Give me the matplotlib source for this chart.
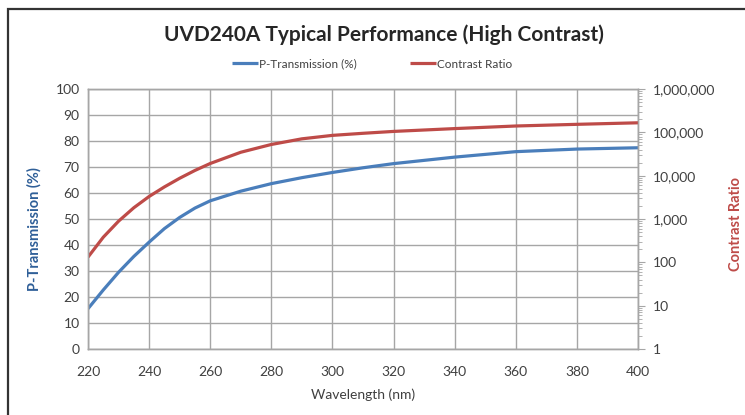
import matplotlib
matplotlib.use("Agg")
import matplotlib.pyplot as plt
from matplotlib.ticker import FixedLocator, LogLocator, FuncFormatter, NullFormatter
from matplotlib.patches import Rectangle

plt.rcParams['font.family'] = ['Lato', 'DejaVu Sans']

wavelength = [220, 225, 230, 235, 240, 245, 250, 255, 260, 270, 280, 290, 300,
              310, 320, 340, 360, 380, 400]
transmission = [15.5, 22.7, 29.5, 35.6, 41.1, 46.3, 50.6, 54.2, 57.0, 60.7, 63.6,
                65.9, 67.9, 69.7, 71.3, 73.8, 75.9, 76.9, 77.4]
contrast = [132, 380, 891, 1820, 3310, 5500, 8710, 13200, 19100, 34700, 52500,
            70800, 85100, 95000, 105000, 122000, 140000, 153000, 166000]

title = "UVD240A Typical Performance (High Contrast)"
blue = "#4A7EBB"
red = "#BE4B48"
grid_c = "#A6A6A6"
text_c = "#404040"

fig = plt.figure(figsize=(7.45, 4.15), dpi=100)
fig.patches.append(Rectangle((8/745, -0.1), 1.2, 1.1 - 9/415,
                             transform=fig.transFigure, fill=False,
                             edgecolor="#333333", linewidth=1.6))
# plot area: left 88, right 638, top 89, bottom 349
ax = fig.add_axes([88/745, 1 - 349/415, 550/745, 260/415])
ax.plot(wavelength, transmission, color=blue, lw=2.3, label="P-Transmission (%)",
        solid_joinstyle="round", solid_capstyle="butt")
ax.set_xlim(220, 400)
ax.set_ylim(0, 100)
ax.set_xticks(range(220, 401, 20))
ax.set_yticks(range(0, 101, 10))
ax.grid(True, color=grid_c, lw=1.0)
ax.set_axisbelow(True)
for s in ax.spines.values():
    s.set_color(grid_c)
    s.set_linewidth(1.0)
ax.tick_params(axis='x', length=0, labelsize=10, colors=text_c, pad=12)
ax.tick_params(axis='y', length=0, labelsize=10, colors=text_c, pad=6)
ax.set_xlabel("Wavelength (nm)", color=text_c, fontsize=10, labelpad=8)

fig.text(34/745, 1 - 229/415, "P-Transmission (%)", rotation=90, ha="center", va="center",
         color="#2F5F98", fontweight="bold", fontsize=10.5)

ax2 = ax.twinx()
ax2.plot(wavelength, contrast, color=red, lw=2.3, label="Contrast Ratio",
         solid_joinstyle="round", solid_capstyle="butt")
ax2.set_yscale("log")
ax2.set_ylim(1, 1e6)
ax2.yaxis.set_major_locator(FixedLocator([1, 10, 100, 1e3, 1e4, 1e5, 1e6]))
ax2.yaxis.set_major_formatter(FuncFormatter(lambda v, p: f"{int(round(v)):,}"))
ax2.yaxis.set_minor_locator(LogLocator(base=10, subs=range(2, 10)))
ax2.yaxis.set_minor_formatter(NullFormatter())
for s in ax2.spines.values():
    s.set_color(grid_c)
    s.set_linewidth(1.0)
ax2.tick_params(axis='y', which='major', length=5, color=grid_c, labelsize=10, labelcolor=text_c, pad=6)
ax2.tick_params(axis='y', which='minor', length=3, color=grid_c)

fig.text(736/745, 1 - 224/415, "Contrast Ratio", rotation=90, ha="center", va="center",
         color=red, fontweight="bold", fontsize=10.5)

fig.text(384/745, 1 - 35/415, title, ha="center", va="center", fontsize=15,
         fontweight="bold", color="#262626")

h1, l1 = ax.get_legend_handles_labels()
h2, l2 = ax2.get_legend_handles_labels()
fig.legend(h1 + h2, l1 + l2, loc="center", bbox_to_anchor=(372/745, 1 - 64/415),
           ncol=2, frameon=False, fontsize=8.5, handlelength=2.2, handletextpad=0.1,
           columnspacing=4.5, labelcolor=text_c)

fig.savefig("out.png", dpi=100)
